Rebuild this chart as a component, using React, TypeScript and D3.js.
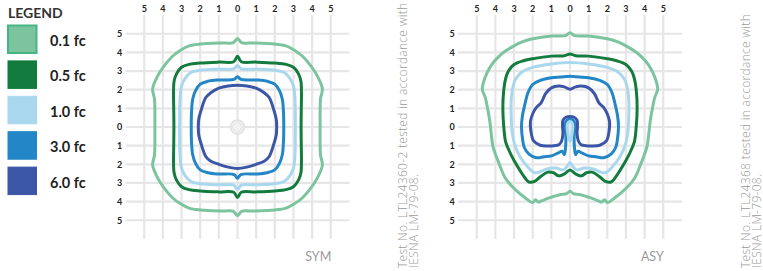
import React from "react";
import * as d3 from "d3";

type P = [number, number];

const legendLabels = ["0.1 fc", "0.5 fc", "1.0 fc", "3.0 fc", "6.0 fc"];
const legendColors = ["#7cc4a0", "#147b3e", "#a9d8ee", "#2386c6", "#3c56a7"];
const tickValues = [-5, -4, -3, -2, -1, 0, 1, 2, 3, 4, 5];
const chartTitles = ["SYM", "ASY"];
const testNotes = [
  ["Test No. LTL24360-2 tested in accordance with", "IESNA LM-79-08."],
  ["Test No. LTL24368 tested in accordance with", "IESNA LM-79-08."],
];

// SYM isolines (grid units)
const sym01: P[] = [
  [0, 4.74], [0.22, 4.52], [0.6, 4.5], [1, 4.5], [2, 4.45], [2.6, 4.35], [3.05, 4.12], [3.5, 3.78], [3.95, 3.25], [4.3, 2.7], [4.55, 2.05], [4.45, 1.5], [4.43, 0.8], [4.43, 0], [4.43, -0.8], [4.45, -1.5], [4.55, -2.05], [4.3, -2.7], [3.95, -3.25], [3.5, -3.78], [3.05, -4.12], [2.6, -4.35], [2, -4.45], [1, -4.5], [0.6, -4.5], [0.22, -4.52], [0, -4.74],
  [-0.22, -4.52], [-0.6, -4.5], [-1, -4.5], [-2, -4.45], [-2.6, -4.35], [-3.05, -4.12], [-3.5, -3.78], [-3.95, -3.25], [-4.3, -2.7], [-4.55, -2.05], [-4.45, -1.5], [-4.43, -0.8], [-4.43, 0], [-4.43, 0.8], [-4.45, 1.5], [-4.55, 2.05], [-4.3, 2.7], [-3.95, 3.25], [-3.5, 3.78], [-3.05, 4.12], [-2.6, 4.35], [-2, 4.45], [-1, 4.5], [-0.6, 4.5], [-0.22, 4.52],
];
const sym05: P[] = [
  [0, 3.8], [0.2, 3.5], [1, 3.48], [2, 3.43], [2.6, 3.36], [3.0, 3.2], [3.27, 2.85], [3.4, 2.45], [3.43, 1.8], [3.42, 1], [3.41, 0], [3.42, -1], [3.43, -1.8], [3.4, -2.45], [3.27, -2.85], [3.0, -3.2], [2.6, -3.36], [2, -3.43], [1, -3.48], [0.2, -3.5], [0, -3.78],
  [-0.2, -3.5], [-1, -3.48], [-2, -3.43], [-2.6, -3.36], [-3.0, -3.2], [-3.27, -2.85], [-3.4, -2.45], [-3.43, -1.8], [-3.42, -1], [-3.41, 0], [-3.42, 1], [-3.43, 1.8], [-3.4, 2.45], [-3.27, 2.85], [-3.0, 3.2], [-2.6, 3.36], [-2, 3.43], [-1, 3.48], [-0.2, 3.5],
];
const sym10: P[] = [
  [0, 3.3], [0.2, 3.12], [1, 3.1], [2, 3.04], [2.5, 2.92], [2.8, 2.62], [3.0, 2.2], [3.08, 1.5], [3.1, 0.5], [3.1, -0.5], [3.08, -1.5], [3.0, -2.2], [2.8, -2.62], [2.5, -2.92], [2, -3.04], [1, -3.1], [0.2, -3.12], [0, -3.34],
  [-0.2, -3.12], [-1, -3.1], [-2, -3.04], [-2.5, -2.92], [-2.8, -2.62], [-3.0, -2.2], [-3.08, -1.5], [-3.1, -0.5], [-3.1, 0.5], [-3.08, 1.5], [-3.0, 2.2], [-2.8, 2.62], [-2.5, 2.92], [-2, 3.04], [-1, 3.1], [-0.2, 3.12],
];
const sym30: P[] = [
  [0, 2.7], [0.18, 2.55], [1, 2.52], [1.6, 2.45], [2.0, 2.3], [2.25, 1.95], [2.4, 1.5], [2.46, 0.9], [2.48, 0], [2.46, -0.9], [2.4, -1.5], [2.25, -1.95], [2.0, -2.3], [1.6, -2.45], [1, -2.52], [0.18, -2.55], [0, -2.75],
  [-0.18, -2.55], [-1, -2.52], [-1.6, -2.45], [-2.0, -2.3], [-2.25, -1.95], [-2.4, -1.5], [-2.46, -0.9], [-2.48, 0], [-2.46, 0.9], [-2.4, 1.5], [-2.25, 1.95], [-2.0, 2.3], [-1.6, 2.45], [-1, 2.52], [-0.18, 2.55],
];
const sym60: P[] = [
  [0, 2.24], [0.5, 2.2], [1, 2.08], [1.45, 1.82], [1.7, 1.58], [1.92, 1.0], [2.08, 0.4], [2.1, 0], [2.08, -0.4], [1.92, -1.0], [1.7, -1.58], [1.45, -1.82], [1, -2.0], [0.5, -2.15], [0, -2.22],
  [-0.5, -2.15], [-1, -2.0], [-1.45, -1.82], [-1.7, -1.58], [-1.92, -1.0], [-2.08, -0.4], [-2.1, 0], [-2.08, 0.4], [-1.92, 1.0], [-1.7, 1.58], [-1.45, 1.82], [-1, 2.08], [-0.5, 2.2],
];

// ASY isolines (grid units)
const asy01: P[] = [
  [0, 5.05], [0.25, 4.9], [1, 4.88], [2, 4.73], [2.6, 4.55], [3.0, 4.35], [3.5, 4.05], [3.85, 3.75], [4.2, 3.35], [4.45, 2.9], [4.65, 2.35], [4.7, 2.0], [4.55, 1.6], [4.42, 1.0], [4.3, 0.3], [4.22, -0.4], [4.14, -1.0], [4.02, -1.4], [3.75, -2.1], [3.48, -2.72], [3.04, -3.26], [2.41, -3.79], [2.0, -4.05], [1.85, -3.9], [1.7, -4.02], [1.5, -3.95], [1.07, -3.79], [0.5, -3.62], [0.2, -3.58], [0, -3.45],
  [-0.2, -3.58], [-0.5, -3.62], [-1.07, -3.79], [-1.5, -3.95], [-1.7, -4.02], [-1.85, -3.9], [-2.0, -4.05], [-2.41, -3.79], [-3.04, -3.26], [-3.48, -2.72], [-3.75, -2.1], [-4.02, -1.4], [-4.14, -1.0], [-4.22, -0.4], [-4.3, 0.3], [-4.42, 1.0], [-4.55, 1.6], [-4.7, 2.0], [-4.65, 2.35], [-4.45, 2.9], [-4.2, 3.35], [-3.85, 3.75], [-3.5, 4.05], [-3.0, 4.35], [-2.6, 4.55], [-2, 4.73], [-1, 4.88], [-0.25, 4.9],
];
const asy05: P[] = [
  [0, 3.92], [0.3, 3.82], [1, 3.8], [2, 3.66], [2.5, 3.55], [3.0, 3.35], [3.3, 3.0], [3.45, 2.6], [3.55, 2.0], [3.6, 1.0], [3.55, 0], [3.45, -0.8], [3.25, -1.3], [3.0, -1.8], [2.7, -2.3], [2.4, -2.75], [2.2, -2.95], [1.9, -2.92], [1.6, -2.68], [1.2, -2.42], [0.9, -2.45], [0.6, -2.62], [0.3, -2.52], [0, -2.3],
  [-0.3, -2.52], [-0.6, -2.62], [-0.9, -2.45], [-1.2, -2.42], [-1.6, -2.68], [-1.9, -2.92], [-2.2, -2.95], [-2.4, -2.75], [-2.7, -2.3], [-3.0, -1.8], [-3.25, -1.3], [-3.45, -0.8], [-3.55, 0], [-3.6, 1.0], [-3.55, 2.0], [-3.45, 2.6], [-3.3, 3.0], [-3.0, 3.35], [-2.5, 3.55], [-2, 3.66], [-1, 3.8], [-0.3, 3.82],
];
const asy10: P[] = [
  [0, 3.46], [1, 3.38], [2, 3.2], [2.5, 3.0], [2.9, 2.6], [3.05, 2.2], [3.15, 1.5], [3.15, 0.5], [3.1, -0.3], [2.95, -1.0], [2.7, -1.55], [2.3, -2.1], [1.9, -2.45], [1.6, -2.4], [1.25, -2.25], [0.75, -2.2], [0.35, -2.3], [0.15, -2.1], [0, -1.9],
  [-0.15, -2.1], [-0.35, -2.3], [-0.75, -2.2], [-1.25, -2.25], [-1.6, -2.4], [-1.9, -2.45], [-2.3, -2.1], [-2.7, -1.55], [-2.95, -1.0], [-3.1, -0.3], [-3.15, 0.5], [-3.15, 1.5], [-3.05, 2.2], [-2.9, 2.6], [-2.5, 3.0], [-2, 3.2], [-1, 3.38],
];
const asy10Inner: P[] = [
  [0, 0.3], [0.12, 0.2], [0.15, 0], [0.12, -0.3], [0.07, -0.6], [0, -0.75], [-0.07, -0.6], [-0.12, -0.3], [-0.15, 0], [-0.12, 0.2],
];
const asy30: P[] = [
  [0, 2.72], [0.5, 2.68], [1, 2.64], [1.6, 2.5], [2.0, 2.28], [2.25, 1.85], [2.4, 1.3], [2.55, 0.6], [2.6, 0], [2.55, -0.6], [2.45, -1.1], [2.2, -1.45], [1.8, -1.65], [1.4, -1.6], [1.0, -1.55], [0.65, -1.4], [0.42, -1.3], [0.3, -1.48], [0.24, -1.1], [0.22, -0.6], [0.25, -0.1], [0.24, 0.25], [0.12, 0.4], [0, 0.42],
  [-0.12, 0.4], [-0.24, 0.25], [-0.25, -0.1], [-0.22, -0.6], [-0.24, -1.1], [-0.3, -1.48], [-0.42, -1.3], [-0.65, -1.4], [-1.0, -1.55], [-1.4, -1.6], [-1.8, -1.65], [-2.2, -1.45], [-2.45, -1.1], [-2.55, -0.6], [-2.6, 0], [-2.55, 0.6], [-2.4, 1.3], [-2.25, 1.85], [-2.0, 2.28], [-1.6, 2.5], [-1, 2.64], [-0.5, 2.68],
];
const asy60: P[] = [
  [0, 2.02], [0.3, 2.15], [0.6, 2.2], [1.0, 2.1], [1.3, 1.8], [1.55, 1.3], [1.8, 1.05], [1.98, 0.75], [2.12, 0.3], [2.1, -0.2], [1.95, -0.75], [1.6, -0.98], [1.2, -1.02], [0.85, -1.0], [0.6, -0.95], [0.45, -0.75], [0.38, -0.35], [0.4, 0.05], [0.38, 0.35], [0.22, 0.52], [0, 0.56],
  [-0.22, 0.52], [-0.38, 0.35], [-0.4, 0.05], [-0.38, -0.35], [-0.45, -0.75], [-0.6, -0.95], [-0.85, -1.0], [-1.2, -1.02], [-1.6, -0.98], [-1.95, -0.75], [-2.1, -0.2], [-2.12, 0.3], [-1.98, 0.75], [-1.8, 1.05], [-1.55, 1.3], [-1.3, 1.8], [-1.0, 2.1], [-0.6, 2.2], [-0.3, 2.15],
];

const symLines: { pts: P[]; level: number }[] = [
  { pts: sym01, level: 0 }, { pts: sym05, level: 1 }, { pts: sym10, level: 2 }, { pts: sym30, level: 3 }, { pts: sym60, level: 4 },
];
const asyLines: { pts: P[]; level: number }[] = [
  { pts: asy01, level: 0 }, { pts: asy05, level: 1 }, { pts: asy10, level: 2 }, { pts: asy30, level: 3 }, { pts: asy10Inner, level: 2 }, { pts: asy60, level: 4 },
];

const UNIT = 18.65;
const CY = 127;
const FONT = "Lato, 'Open Sans', sans-serif";
const NOTE_FONT = "'Open Sans', Lato, sans-serif";

function Chart({ cx, lines, title, center }: { cx: number; lines: { pts: P[]; level: number }[]; title: string; center: boolean }) {
  const x = d3.scaleLinear().domain([-6, 6]).range([cx - 6 * UNIT, cx + 6 * UNIT]);
  const y = d3.scaleLinear().domain([-6, 6]).range([CY + 6 * UNIT, CY - 6 * UNIT]);
  const line = d3
    .line<P>()
    .x((d) => x(d[0]))
    .y((d) => y(d[1]))
    .curve(d3.curveCatmullRomClosed.alpha(0.5));
  return (
    <g>
      {tickValues.map((t) => (
        <line key={"v" + t} x1={x(t)} x2={x(t)} y1={y(6)} y2={y(-6)} stroke="#e6e6e6" strokeWidth={2.2} />
      ))}
      {tickValues.map((t) => (
        <line key={"h" + t} x1={x(-6)} x2={x(6)} y1={y(t)} y2={y(t)} stroke="#e6e6e6" strokeWidth={2.2} />
      ))}
      {tickValues.map((t) => (
        <text key={"tx" + t} x={x(t)} y={11.5} textAnchor="middle" fontSize={9} fontWeight={700} fill="#222" fontFamily={FONT}>
          {Math.abs(t)}
        </text>
      ))}
      {tickValues.map((t) => (
        <text key={"ty" + t} x={cx - 118} y={y(t) + 3.3} textAnchor="middle" fontSize={9} fontWeight={700} fill="#222" fontFamily={FONT}>
          {Math.abs(t)}
        </text>
      ))}
      {center && (
        <g>
          <circle cx={x(0)} cy={y(0)} r={7} fill="#eeeeee" stroke="#e2e2e2" strokeWidth={1.5} />
          <path
            d={`M${x(0)},${y(0) - 5.5}L${x(0) + 5.5},${y(0)}L${x(0)},${y(0) + 5.5}L${x(0) - 5.5},${y(0)}Z`}
            fill="#f2f2f2"
            stroke="#e4e4e4"
            strokeWidth={1}
          />
        </g>
      )}
      {lines.map((l, i) => (
        <path key={i} d={line(l.pts) || ""} fill="none" stroke={legendColors[l.level]} strokeWidth={3} strokeLinejoin="round" />
      ))}
      <text x={x(5) + 0.5} y={261} textAnchor="end" fontSize={12.5} fill="#9a9a9a" fontFamily={FONT}>
        {title}
      </text>
    </g>
  );
}

export default function App() {
  return (
    <svg width={763} height={271} style={{ position: "absolute", left: 0, top: 0, background: "#fff" }}>
      <text x={8} y={18} fontSize={14} fontWeight={700} fill="#333" fontFamily={FONT}>
        LEGEND
      </text>
      {legendLabels.map((lab, i) => (
        <g key={lab}>
          <rect
            x={8}
            y={25.5 + i * 35.4}
            width={28.5}
            height={27.5}
            fill={legendColors[i]}
            stroke={i === 0 ? "#46b584" : legendColors[i]}
            strokeWidth={i === 0 ? 2 : 1}
          />
          <text x={50} y={46 + i * 35.4} fontSize={14.5} fontWeight={700} fill="#222" fontFamily={FONT}>
            {lab}
          </text>
        </g>
      ))}
      <Chart cx={237.5} lines={symLines} title={chartTitles[0]} center={true} />
      <Chart cx={570} lines={asyLines} title={chartTitles[1]} center={false} />
      {[407, 750].map((bx, k) => (
        <g key={k} transform={`translate(${bx},268) rotate(-90)`}>
          {testNotes[k].map((s, j) => (
            <text key={j} x={0} y={j * 10.8} fontSize={12} letterSpacing={0.3} fontWeight={300} fill="#9a9a9a" fontFamily={NOTE_FONT}>
              {s}
            </text>
          ))}
        </g>
      ))}
    </svg>
  );
}
